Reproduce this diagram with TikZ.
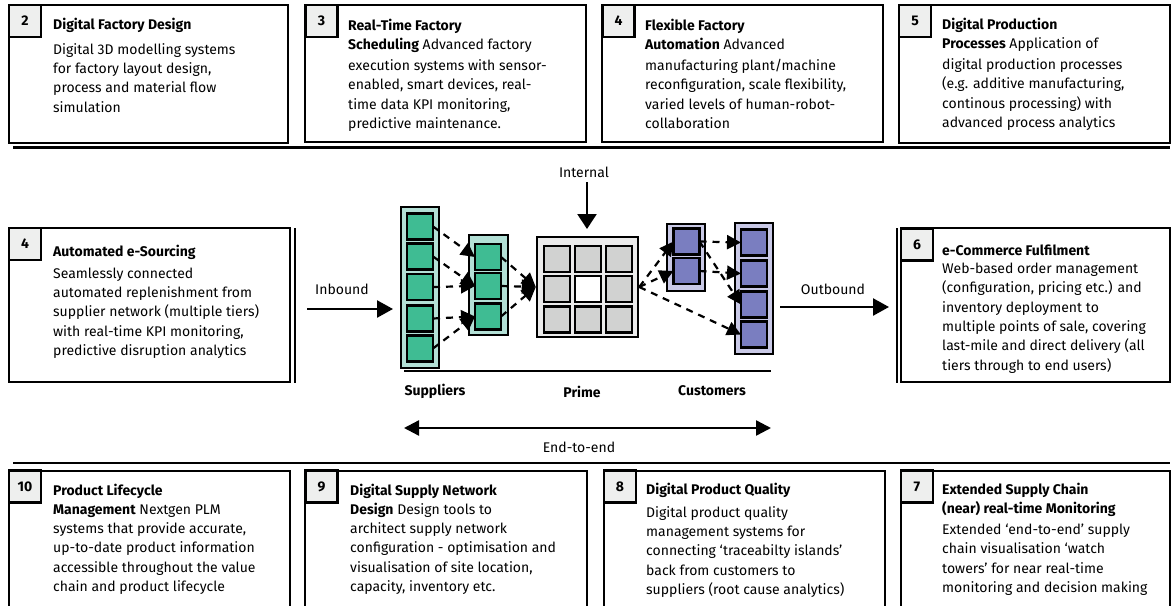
\documentclass[tikz,border=0pt]{standalone}
\usepackage{fontspec}
\setmainfont{Fira Sans}
\usetikzlibrary{arrows.meta}
\definecolor{numfill}{HTML}{EEEFEE}
\definecolor{supout}{HTML}{B3E0D6}
\definecolor{supin}{HTML}{3FBC93}
\definecolor{primeout}{HTML}{EBEBEB}
\definecolor{primein}{HTML}{D1D2D1}
\definecolor{custout}{HTML}{C9C9E6}
\definecolor{custin}{HTML}{7A7EC0}
\begin{document}
\begin{tikzpicture}[x=1pt,y=-1pt,
  frame/.style={draw, line width=2.4pt},
  numbox/.style={draw, line width=2.4pt, fill=numfill, minimum width=32pt, minimum height=32pt, inner sep=0pt, font=\fontsize{14}{16}\selectfont\bfseries},
  desc/.style={anchor=north west, inner sep=0pt, align=left, font=\fontsize{14}{19.3}\selectfont},
  lbl/.style={inner sep=0pt, font=\fontsize{14}{16}\selectfont},
  blbl/.style={inner sep=0pt, font=\fontsize{14}{16}\selectfont\bfseries},
  sepline/.style={line width=2.6pt},
  outerbox/.style={draw, line width=2.5pt, inner sep=0pt},
  sq/.style={draw, line width=2.8pt, minimum width=26pt, minimum height=26pt, inner sep=0pt, outer sep=0pt},
  bigarrow/.style={line width=2.4pt, -{Triangle[length=16pt,width=17pt]}},
  dasharrow/.style={line width=2.2pt, dash pattern=on 7pt off 6pt, -{Triangle[length=14pt,width=14pt]}}
]
\useasboundingbox (0,0) rectangle (1175,605);

% ---------- top row ----------
\draw[frame] (9,5) rectangle (288,143);
\node[numbox] (n2) at (25,21) {2};
\node[desc] (t2) at (53,17.5) {\textbf{Digital Factory Design}\\[6pt]Digital 3D modelling systems\\for factory layout design,\\process and material flow\\simulation};

\draw[frame] (305,5) rectangle (586,142);
\node[numbox] (n3) at (321.5,21) {3};
\node[desc] (t3) at (348,18.5) {\textbf{Real-Time Factory}\\\textbf{Scheduling} Advanced factory\\[2pt]execution systems with sensor-\\enabled, smart devices, real-\\time data KPI monitoring,\\predictive maintenance.};

\draw[frame] (602,5) rectangle (883,142);
\node[numbox] (n4t) at (618.5,21) {4};
\node[desc] (t4t) at (645,18.5) {\textbf{Flexible Factory}\\\textbf{Automation} Advanced\\[2pt]manufacturing plant/machine\\reconfiguration, scale flexibility,\\varied levels of human-robot-\\collaboration};

\draw[frame] (899,5) rectangle (1170,143);
\node[numbox] (n5) at (915,21) {5};
\node[desc] (t5) at (942,17.5) {\textbf{Digital Production}\\\textbf{Processes} Application of\\[2pt]digital production processes\\(e.g. additive manufacturing,\\continous processing) with\\advanced process analytics};

\coordinate (tl1) at (13,147.5);
\coordinate (tl2) at (1170,147.5);
\draw[sepline] (tl1) -- (tl2);

% ---------- middle row ----------
\draw[frame] (9,228) rectangle (290,382);
\node[numbox] (n4m) at (25,244) {4};
\node[desc] (t4m) at (53,244.5) {\textbf{Automated e-Sourcing}\\[3pt]Seamlessly connected\\automated replenishment from\\supplier network (multiple tiers)\\with real-time KPI monitoring,\\predictive disruption analytics};
\coordinate (vl1a) at (295,228);
\coordinate (vl1b) at (295,383);
\draw[sepline] (vl1a) -- (vl1b);

\coordinate (vl2a) at (897,228);
\coordinate (vl2b) at (897,383);
\draw[sepline] (vl2a) -- (vl2b);
\draw[frame] (901,228) rectangle (1170,382);
\node[numbox] (n6) at (917,244.5) {6};
\node[desc] (t6) at (942,244.5) {\textbf{e-Commerce Fulfilment}\\[-1pt]Web-based order management\\(configuration, pricing etc.) and\\inventory deployment to\\multiple points of sale, covering\\last-mile and direct delivery (all\\tiers through to end users)};

% inbound / outbound / internal
\node[lbl] (inl) at (342,289) {Inbound};
\coordinate (inA) at (307,309);
\coordinate (inB) at (393,309);
\draw[bigarrow] (inA) -- (inB);

\node[lbl] (outl) at (833,289) {Outbound};
\coordinate (outA) at (780,307);
\coordinate (outB) at (889,307);
\draw[bigarrow] (outA) -- (outB);

\node[lbl] (intl) at (584,172) {Internal};
\coordinate (intA) at (587,182);
\coordinate (intB) at (587,229);
\draw[line width=2.4pt, -{Triangle[length=15pt,width=19pt]}] (intA) -- (intB);

% supplier tier 1
\node[outerbox, fill=supout, minimum width=38pt, minimum height=161pt] (S1) at (420,287.5) {};
\foreach \i/\y in {1/226.5,2/256.5,3/287,4/318.5,5/348.5}
  \node[sq, fill=supin] (s1-\i) at (420,\y) {};
% supplier tier 2
\node[outerbox, fill=supout, minimum width=39pt, minimum height=100pt] (S2) at (488.5,285) {};
\foreach \i/\y in {1/257,2/286,3/316.5}
  \node[sq, fill=supin] (s2-\i) at (488,\y) {};
% prime
\node[outerbox, fill=primeout, minimum width=101pt, minimum height=100pt] (P) at (587.5,287) {};
\foreach \r/\y in {1/259,2/289,3/319.5}
  \foreach \c/\x in {1/557,2/588,3/619}
    \node[sq, fill=primein] (p-\r-\c) at (\x,\y) {};
\node[sq, fill=white] (pc) at (588,289) {};
% customer tier 1
\node[outerbox, fill=custout, minimum width=38pt, minimum height=67pt] (C1) at (686,257.5) {};
\foreach \i/\y in {1/241.5,2/271}
  \node[sq, fill=custin] (c1-\i) at (686.5,\y) {};
% customer tier 2
\node[outerbox, fill=custout, minimum width=38pt, minimum height=131pt] (C2) at (754,288.5) {};
\foreach \i/\y in {1/242.5,2/273.5,3/304.5,4/334.5}
  \node[sq, fill=custin] (c2-\i) at (754,\y) {};

% dashed flows
\draw[dasharrow] (s1-1.east) -- (s2-1.west);
\draw[dasharrow] (s1-2.east) -- (s2-2.west);
\draw[dasharrow] (s1-3.east) -- (s2-2.west);
\draw[dasharrow] (s1-4.east) -- (s2-3.west);
\draw[dasharrow] (s1-5.east) -- (s2-3.west);
\draw[dasharrow] (s2-1.east) -- (P.west);
\draw[dasharrow] (s2-2.east) -- (P.west);
\draw[dasharrow] (s2-3.east) -- (P.west);
\draw[dasharrow] (P.east) -- (c1-1.west);
\draw[dasharrow] (P.east) -- (c1-2.west);
\draw[dasharrow] (P.east) -- (c2-4.west);
\draw[dasharrow] (c1-1.east) -- (c2-1.west);
\draw[dasharrow] (c1-2.east) -- (c2-2.west);
\draw[dasharrow] (c1-1.east) -- (c2-3.west);

% baseline and labels
\coordinate (bl1) at (404,371);
\coordinate (bl2) at (771,371);
\draw[line width=2.4pt] (bl1) -- (bl2);
\node[blbl] (supl) at (435,391) {Suppliers};
\node[blbl] (priml) at (582,392) {Prime};
\node[blbl] (custl) at (712,391) {Customers};

\coordinate (e2eA) at (404,428);
\coordinate (e2eB) at (771,428);
\draw[line width=2.4pt, {Triangle[length=15pt,width=15pt]}-{Triangle[length=15pt,width=15pt]}] (e2eA) -- (e2eB);
\node[lbl] (e2el) at (579,447) {End-to-end};

% ---------- bottom row ----------
\coordinate (bl3) at (13,463);
\coordinate (bl4) at (1170,463);
\draw[sepline] (bl3) -- (bl4);

\draw[frame] (9,606) |- (290,471) -- (290,606);
\node[numbox] (n10) at (25,486.5) {10};
\node[desc] (t10) at (53,483.5) {\textbf{Product Lifecycle}\\\textbf{Management} Nextgen PLM\\systems that provide accurate,\\up-to-date product information\\accessible throughout the value\\chain and product lifecycle};

\draw[frame] (305,606) |- (587,471) -- (587,606);
\node[numbox] (n9) at (321.5,486.5) {9};
\node[desc] (t9) at (350,483.5) {\textbf{Digital Supply Network}\\\textbf{Design} Design tools to\\architect supply network\\configuration - optimisation and\\visualisation of site location,\\capacity, inventory etc.};

\draw[frame] (604,606) |- (885,471) -- (885,606);
\node[numbox] (n8) at (620,486.5) {8};
\node[desc] (t8) at (646,482.5) {\textbf{Digital Product Quality}\\[4pt]Digital product quality\\management systems for\\connecting ‘traceabilty islands’\\back from customers to\\suppliers (root cause analytics)};

\draw[frame] (901,606) |- (1170,471) -- (1170,606);
\node[numbox] (n7) at (917,486.5) {7};
\node[desc] (t7) at (942,482.5) {\textbf{Extended Supply Chain}\\\textbf{(near) real-time Monitoring}\\[2pt]Extended ‘end-to-end’ supply\\chain visualisation ‘watch\\towers’ for near real-time\\monitoring and decision making};
\end{tikzpicture}
\end{document}
